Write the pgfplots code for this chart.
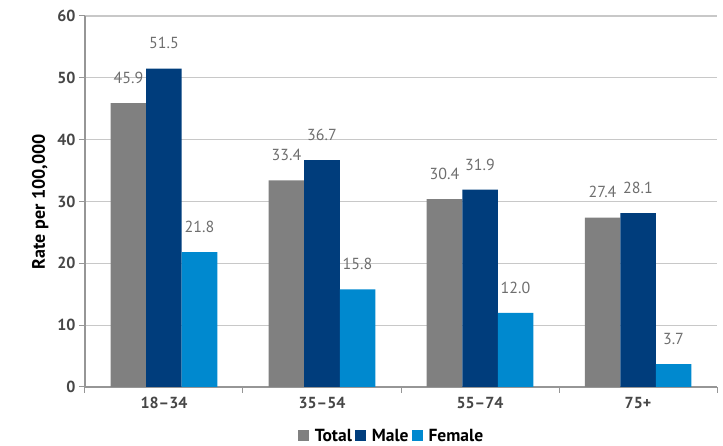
\documentclass[border=0pt]{standalone}
\usepackage{pgfplots}
\pgfplotsset{compat=1.18}
\usepackage{fontspec}
\setmainfont{PT Sans}

\definecolor{cTotal}{RGB}{128,128,128}
\definecolor{cMale}{RGB}{0,61,124}
\definecolor{cFemale}{RGB}{0,137,207}
\definecolor{cGrid}{RGB}{200,200,200}
\definecolor{cAxis}{RGB}{150,150,150}
\definecolor{cTick}{RGB}{70,70,70}
\definecolor{cVal}{RGB}{110,110,110}

\begin{document}
\begin{tikzpicture}
\begin{axis}[
  scale only axis,
  width=632pt, height=371pt,
  at={(0pt,0pt)}, anchor=south west,
  ybar=0pt, bar width=35.5pt,
  ymin=0, ymax=60, ytick={0,10,...,60},
  xmin=-0.5, xmax=3.5,
  xtick={0,1,2,3},
  xticklabels={18--34,35--54,55--74,75+},
  minor xtick={-0.5,0.5,1.5,2.5,3.5},
  axis x line*=bottom, axis y line*=left,
  axis line style={cAxis, line width=1.2pt, -},
  ymajorgrids, grid style={cGrid, line width=1.2pt},
  major x tick style={draw=none},
  minor x tick style={cAxis, line width=1pt},
  major y tick style={cAxis, line width=1pt},
  tick align=outside, major tick length=6pt, minor tick length=6pt,
  /pgf/number format/assume math mode=true,
  ticklabel style={font=\fontsize{16}{18}\selectfont\bfseries, text=cTick},
  xticklabel style={yshift=-1pt},
  ylabel={Rate per 100,000},
  ylabel style={font=\fontsize{18}{20}\selectfont\bfseries, yshift=2pt},
  nodes near coords,
  nodes near coords style={font=\fontsize{16}{18}\selectfont, text=cVal, yshift=16pt,
    /pgf/number format/.cd, fixed, fixed zerofill, precision=1, assume math mode=true},
  legend columns=3,
  legend style={at={(0.485,-0.132)}, anchor=center, draw=none,
    inner sep=0pt, outer sep=0pt,
    font=\fontsize{17.5}{19}\selectfont\bfseries, column sep=4pt,
    /tikz/every even column/.append style={column sep=1pt}},
  legend image code/.code={\fill[#1] (0pt,-5.5pt) rectangle (11pt,5.5pt);},
]
\addplot[fill=cTotal, draw=none] coordinates {(0,45.9) (1,33.4) (2,30.4) (3,27.4)};
\addplot[fill=cMale, draw=none] coordinates {(0,51.5) (1,36.7) (2,31.9) (3,28.1)};
\addplot[fill=cFemale, draw=none] coordinates {(0,21.8) (1,15.8) (2,12.0) (3,3.7)};
\legend{Total,Male,Female}
\end{axis}
\pgfresetboundingbox
\useasboundingbox (-85pt,-59pt) rectangle (638pt,387pt);
\end{tikzpicture}
\end{document}
